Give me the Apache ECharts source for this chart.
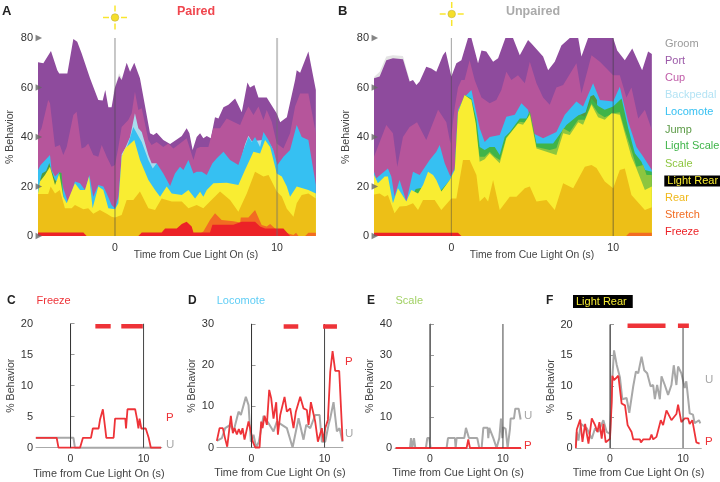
<!DOCTYPE html>
<html><head><meta charset="utf-8">
<style>html,body{margin:0;padding:0;background:#fff}#c{width:720px;height:482px}</style>
<script src="https://cdn.jsdelivr.net/npm/echarts@6/dist/echarts.min.js"></script>
</head><body><div id="c"></div>
<script>
// Top edge of every behaviour band (cumulative % behaviour), [time s, %].
const groomA=[[-0.1,58],[0.25,65.8],[0.5,63]];
const portA=[[-4.75,70.2],[-4.63,69.5],[-4.42,69.8],[-3.95,74.7],[-3.56,67],[-3.44,65.7],[-2.94,65.7],[-2.57,79.6],[-2.33,78.5],[-2.06,73.8],[-1.54,63.7],[-1.03,55],[-0.76,54.7],[-0.6,59],[-0.41,52],[-0.21,52],[0,60],[0.25,64.6],[0.41,63],[0.72,70],[0.93,66.4],[1.19,70],[1.54,63.7],[2.16,41.5],[2.37,40.8],[2.57,41.7],[2.98,38.8],[3.4,37.2],[3.81,39],[4.12,40.4],[4.42,43.5],[4.59,41.5],[4.79,34.7],[5.04,40],[5.25,41.5],[5.45,39.5],[5.66,40.4],[5.91,39.5],[6.17,48],[6.38,47.5],[6.69,52],[7,53],[7.41,55.6],[7.82,50],[8.17,62],[8.33,60],[8.6,61],[8.85,56],[9.36,56],[9.98,49.5],[10.19,46],[10.39,47],[10.6,48],[11.11,63],[11.21,67],[11.42,66],[11.93,74.5],[12.04,74.7],[12.39,59]];
const cupA=[[-4.75,40.8],[-4.53,43.5],[-4.12,55],[-4.01,53.6],[-3.7,36],[-3.4,36.8],[-3.19,32.7],[-2.98,36],[-2.57,48.9],[-2.37,50.2],[-2.06,35.4],[-1.85,36],[-1.65,37.4],[-1.34,32.7],[-1.03,32],[-0.82,36.8],[-0.51,32],[-0.21,28],[0,28.7],[0.21,36],[0.41,44],[0.82,46.9],[1.03,49.6],[1.23,58.3],[1.44,50.9],[1.65,51.6],[2.06,38.8],[2.26,36.8],[2.57,38],[2.98,36],[3.29,37.4],[3.6,35.4],[4.01,37.4],[4.42,39.5],[4.84,30.7],[5.04,35.4],[5.25,36],[5.76,36],[6.07,43.5],[6.48,43.5],[6.89,47.5],[7.3,46.2],[7.72,44.8],[8.02,49.6],[8.23,52.3],[8.54,48.9],[8.85,52.3],[9.16,46.9],[9.36,50.9],[9.67,46.2],[9.98,37.4],[10.39,35.4],[10.8,41.5],[11.11,52.3],[11.42,57.6],[11.93,57.6],[12.39,41.5]];
const backpedalA=[[0.41,33],[0.62,35.4],[0.93,40],[1.23,49.6],[1.44,43.5],[1.65,42],[2.06,32.7],[2.26,29.4],[2.57,29.4],[4,null],[7.72,29.5],[8.02,37],[8.23,40.5],[8.44,38.3],[9.36,39],[9.67,36],[9.98,29]];
const locomoteA=[[-4.75,26.7],[-4.59,28.7],[-4.01,32.7],[-3.91,26.7],[-3.7,24],[-3.4,26],[-3.19,19.3],[-2.88,13.2],[-2.47,22],[-2.16,21.3],[-1.85,18.6],[-1.58,24.6],[-1.34,15.9],[-1.03,20.6],[-0.72,20],[-0.51,17.2],[-0.21,12.5],[0,11.2],[0.21,15.9],[0.41,32],[0.62,34],[0.82,37.5],[1.13,44],[1.65,38],[2.06,30.7],[2.33,27.3],[2.57,29.4],[2.98,25.3],[3.4,20.2],[3.7,25.3],[4.01,28],[4.22,26.7],[4.53,30.7],[4.84,25.3],[5.04,26],[5.35,26],[5.66,24.6],[6.01,29.4],[6.28,31.4],[6.69,34],[7.1,30.7],[7.61,28.7],[7.92,34.7],[8.23,40],[8.44,38],[8.64,40],[8.95,36],[9.16,42],[9.47,38.8],[9.77,34.7],[10.02,28.7],[10.39,32],[10.8,34.7],[11.21,44.8],[11.52,40],[11.93,38.8],[12.39,20.6]];
const jumpA=[[-4.6,23],[-4.5,25.3],[-4.25,26.3],[-4.05,29.5],[-3.95,27],[-3.7,22.5],[-3.5,22]];
const lightScaleA=[[-3.6,21],[-3.44,25.8],[-3.3,25.5],[-3.19,16]];
const scaleA=[[5.1,15],[5.25,18.3],[5.4,15]];
const lightRearA=[[-4.75,17.2],[-4.63,22],[-4.32,24.6],[-4.01,28],[-3.7,20.6],[-3.44,25.3],[-3.19,15.9],[-2.98,13.2],[-2.47,21.3],[-2.16,18.6],[-1.85,18.6],[-1.6,24],[-1.38,11.2],[-1.03,20],[-0.72,18.6],[-0.41,11.2],[0,10.8],[0.21,13.2],[0.41,32],[0.62,35.4],[1.19,38.8],[1.54,30.7],[2.06,22.6],[2.47,18.6],[2.78,15.9],[3.19,20],[3.5,17.2],[4.12,16.6],[4.53,18.6],[4.94,15.2],[5.25,17.9],[5.45,15.9],[5.66,18.6],[6.07,21.3],[6.89,21.5],[7.61,20.6],[8.02,26.7],[8.54,34],[8.95,33.3],[9.26,38.8],[9.57,36],[9.98,25.3],[10.29,24],[10.6,20],[10.8,15.9],[11.21,20],[11.93,18.6],[12.39,17.2]];
const rearA=[[-4.75,17],[-4.12,17],[-3.97,20],[-3.7,17.2],[-3.4,18.6],[-3.09,11.2],[-2.67,11.2],[-2.47,12.5],[-1.95,10.8],[-1.65,11.2],[-1.34,9],[-0.93,10.5],[-0.51,9],[-0.21,7.8],[0,7.5],[0.41,8.5],[0.72,14.5],[1.13,14.5],[1.54,18],[2.06,11.2],[2.47,10.5],[2.88,15.2],[3.19,14.5],[3.5,13.9],[4.12,13.9],[4.53,11.2],[5.04,12.5],[5.45,11.2],[5.86,13.9],[6.48,18],[7.1,14.5],[7.61,9.8],[8.13,17.2],[8.64,26],[9.16,24],[9.47,24.6],[9.98,18],[10.29,16],[10.6,11],[11.01,7.8],[11.21,13.2],[11.52,16.6],[11.93,17.2],[12.39,15.2]];
const stretchA=[[5.04,0],[5.45,1.8],[5.86,6.5],[6.17,9.2],[6.58,6.5],[7.3,6],[7.72,5.5],[7.76,7.5],[8.23,7.5],[8.64,10.5],[9.05,4.4],[9.36,3.8],[9.57,4.8],[9.98,2.4],[11.01,0.4],[11.17,1.3],[11.32,0],[11.73,0],[11.93,1.3],[12.39,1.3]];
const freezeA=[[-4.75,1.4],[-1.95,1.4],[-1.75,0],[1.44,0],[1.65,1.4],[2.88,1.4],[3.09,3],[3.81,3],[4.12,4.8],[4.42,5.8],[4.73,3.8],[4.84,1.4],[5.86,1.4],[6.01,4.5],[7.3,4.5],[7.82,5.8],[8.64,5.8],[8.95,3.8],[9.26,3],[10.39,3],[10.8,0],[12.39,0]];

const groomB=[[-4.78,64.2],[-4.43,66.4],[-4.02,72.5],[-3.61,73],[-2.99,72.7],[-2.58,63]];
const portB=[[-4.78,63.7],[-4.43,64.4],[-4.02,71],[-3.61,71.8],[-2.99,71.4],[-2.58,62.4],[-2.37,63],[-2.16,61],[-1.96,62.4],[-1.55,68.4],[-1.24,67.7],[-0.93,66.4],[-0.52,73],[-0.35,74.5],[0,64.4],[0.31,69.8],[0.62,71],[1.03,80],[1.24,80],[1.65,69.8],[1.86,75],[2.16,74.5],[2.58,70.4],[2.89,71.8],[3.34,80],[3.81,80],[4.23,73],[4.74,79.2],[4.95,77.8],[5.67,72.5],[5.98,67],[6.39,70.4],[6.8,77],[7.32,80],[7.84,80],[8.04,72.5],[8.45,80],[10,80],[10.25,75],[10.72,71],[11.18,75.8],[11.79,67],[12.16,74.5],[12.39,73.5]];
const cupB=[[-4.78,32],[-4.02,44.8],[-3.61,41.5],[-3.34,28],[-2.99,40],[-2.58,44],[-2.12,46],[-1.55,38.8],[-0.82,51],[-0.31,46],[-0.06,37.4],[0.21,52],[0.41,60],[0.62,63],[0.82,63],[1.13,71],[1.44,63],[1.86,56],[2.37,53.6],[2.78,55],[3.09,59],[3.4,66.4],[3.71,63],[4.12,65],[4.54,61.7],[4.85,70.4],[5.26,61.7],[5.67,56],[6.08,53],[6.49,60],[6.91,61],[7.73,69.8],[8.04,57.6],[8.66,73],[9.18,70.4],[10,65],[10.41,65],[10.82,56],[11.13,60],[11.55,47.5],[11.96,51],[12.39,42.8]];
const locomoteB=[[-4.78,26],[-4.64,23.3],[-3.92,27.3],[-3.71,24],[-3.51,16],[-3.2,22.6],[-2.78,13.9],[-2.37,26],[-1.96,24.6],[-1.34,30.7],[-0.93,34],[-0.72,36.8],[-0.41,29.4],[-0.06,24],[0.21,27.3],[0.41,51],[0.82,56.3],[1.24,59],[1.55,49.6],[1.75,43.5],[2.06,38],[2.37,40],[2.99,40.8],[3.4,48.2],[3.92,49],[4.33,53.6],[4.74,51],[5.05,41.5],[5.67,39.5],[6.49,42],[7.01,49],[7.73,54.3],[8.14,52.3],[8.76,61.7],[9.18,55],[10,54.3],[10.41,60.3],[10.93,46.2],[11.44,36],[11.86,32],[12.39,26.7]];
const jumpB=[[7.8,48.5],[8.3,50],[8.6,56.5],[8.8,57],[9,55]];
const lightScaleB=[[-2.6,14],[-2.2,19],[-1.8,19.5],[-1.5,17],[-0.8,17.5],[-0.5,19.5],[-0.1,22.5],[0.2,26],[0.41,50],[0.82,57],[1.24,55.5],[1.55,47],[1.75,36],[2.06,34.7],[2.37,36],[2.68,36],[2.99,32.7],[3.3,40],[3.61,42],[4.23,47.5],[4.64,47.5],[4.85,50.5],[5.26,37.4],[5.67,37.4],[6.29,37.4],[7.11,44.8],[7.73,48.2],[7.94,49],[8.25,48.2],[8.66,55.6],[9.07,52.5],[9.48,51],[10,52.3],[10.52,55.6],[10.93,43.5],[11.34,33.4],[11.75,30],[11.96,26.7],[12.39,26]];
const scaleB=[[1.55,40],[1.75,32],[2.06,32],[2.37,34],[2.68,32],[2.99,30.7],[3.4,39.8],[4.23,46.2],[4.64,45.8],[4.85,50],[5.26,36],[6.08,34.7],[6.49,35.5],[6.91,43.5],[7.32,42],[7.84,47],[8.25,47],[8.66,53.6],[9.07,49.6],[9.48,48],[10,49.6],[10.41,50],[10.72,42.8],[11.13,34.7],[11.44,28],[11.86,28.7],[12.06,24.6],[12.39,24.6]];
const lightRearB=[[-4.78,24.6],[-4.54,21.3],[-4.12,24],[-3.92,24],[-3.61,13.2],[-3.3,19.3],[-2.78,13.9],[-2.47,18.6],[-2.06,17.2],[-1.75,20.6],[-1.44,26],[-1.13,24.6],[-0.93,22.6],[-0.62,18],[-0.1,22.6],[0.21,26.7],[0.41,50],[0.82,57],[1.24,55],[1.51,45.5],[1.75,30],[2.06,31],[2.37,33.4],[2.68,31.4],[2.99,29.4],[3.4,39.5],[4.12,45.5],[4.43,45],[4.85,49],[5.26,35.4],[5.88,34],[6.49,32.7],[6.91,41.5],[7.32,40.8],[7.84,46],[8.14,45],[8.66,53],[9.07,48],[9.48,47],[9.9,49.6],[10.41,49],[10.72,41.5],[11.13,32],[11.44,27.3],[11.96,18.6],[12.39,20]];
const rearB=[[-4.78,16.8],[-4.43,17.2],[-4.12,15.9],[-3.92,16.6],[-3.51,9.2],[-3.2,11.9],[-2.78,12.1],[-2.37,13.2],[-2.06,10.5],[-1.75,14.5],[-1.03,14.5],[-0.62,10.5],[0,15.2],[0.31,15.2],[0.72,30.7],[1.13,30.7],[1.55,24.6],[1.75,13.9],[2.06,15.9],[2.27,13.9],[2.58,22.6],[2.99,10.5],[3.61,15.9],[4.02,15.9],[4.54,19.3],[4.85,20],[5.26,13.9],[5.88,14.5],[6.39,10.5],[6.91,21.3],[7.53,19.3],[8.25,28],[8.66,28.7],[8.97,27.5],[9.48,22],[10,19.3],[10.41,26.7],[10.72,27.3],[11.13,16.6],[11.96,10.5],[12.39,11.6]];
const stretchB=[[10.8,0],[11,1.3],[12.39,1.3]];
const freezeB=[[-4.78,1.3],[0.41,1.3],[0.62,0],[12.39,0]];

// Single-behaviour traces, P = paired, U = unpaired.
const freezeP=[[-4.75,1.6],[-1.9,1.6],[-1.65,0],[1.3,0],[1.7,1.6],[2.8,1.6],[3.05,3.1],[3.85,3.1],[4.05,4.6],[4.3,4.8],[4.43,6.2],[4.75,3.1],[4.9,1.6],[5.9,1.6],[6.1,4.7],[7.5,4.7],[7.6,3.1],[7.8,6.2],[8.85,6.2],[9.1,4.7],[9.3,3.1],[9.45,4.7],[9.7,3.1],[10.3,3.1],[10.7,1.6],[11,0],[12.4,0]];
const freezeU=[[-4.75,1.6],[0.4,1.6],[0.6,0],[12.4,0]];
const freezeSig=[[[3.4,19.6],[5.5,19.6]],[[6.95,19.6],[9.9,19.6]]];
const locomoteP=[[-4.75,1.6],[-4.38,4.7],[-3.93,4.7],[-3.61,2.1],[-3.33,0.2],[-2.83,7.7],[-2.56,3.5],[-2.33,4.7],[-2.01,3.2],[-1.74,4.5],[-1.46,3.2],[-1.23,4.7],[-0.96,1.9],[-0.41,6.3],[-0.09,3.9],[0.14,1.6],[0.5,0],[1.1,0],[1.32,6.3],[1.51,4.7],[1.78,7.7],[2.1,5.5],[2.42,14],[2.69,12],[3.01,7],[3.38,11],[3.61,3.1],[3.93,7.9],[4.52,12.3],[4.84,8.7],[5.3,9.5],[5.75,4.7],[6.07,8.7],[6.67,12.3],[7.12,9.5],[7.58,9.1],[7.81,5.5],[8.13,11],[8.72,6.3],[9.09,1.4],[9.63,4.7],[9.86,1.4],[10.09,4.7],[10.46,6.7],[10.78,18.4],[11.1,23.4],[11.46,18.6],[12.01,18.6],[12.47,1.6]];
const locomoteU=[[-4.75,1.6],[-4.06,2.3],[-3.61,4.7],[-2.92,5.5],[-2.47,3.9],[-1.78,8.7],[-1.46,7.9],[-0.78,12.3],[-0.41,10.3],[-0.09,1.4],[0.27,3.1],[0.64,0],[1,1.4],[1.42,5.5],[1.64,7.7],[2.33,5.9],[3.01,3.9],[3.47,6.3],[4.16,5.5],[4.84,4.7],[5.62,0],[5.98,3.1],[6.44,7.1],[7.12,1.9],[7.49,5.5],[8.04,4.7],[8.72,7.9],[9.32,7.9],[9.63,1.4],[10.09,1.4],[10.55,5.5],[10.78,7.1],[11.23,11],[11.69,3.9],[12.05,4.7],[12.47,1.4]];
const locomoteSig=[[[4.4,29.4],[6.4,29.4]],[[9.8,29.4],[11.7,29.4]]];
const scaleP=[[-4.7,0],[5.02,0],[5.25,2.8],[5.48,0],[12.47,0]];
const scaleU=[[-4.7,0],[-2.74,0],[-2.6,3.2],[-2.42,0],[-2.19,3.2],[-2.01,0],[-0.55,0],[-0.37,3.2],[-0.09,3.2],[0.09,0],[2.28,0],[2.47,3.2],[3.42,3.2],[3.52,0],[3.65,3.2],[4.7,3.2],[4.93,6.5],[5.16,6.5],[5.34,3.2],[6.48,3.2],[6.76,0],[7.08,0],[7.31,6.5],[7.9,6.5],[7.99,3.2],[8.13,6.5],[8.36,6.5],[8.68,3.2],[8.9,3.2],[9.13,0],[9.5,3.2],[9.73,9.5],[9.91,3.2],[10.05,6.7],[10.37,6.2],[10.64,0],[10.96,6.2],[11.05,9.5],[11.51,9.5],[11.69,12.7],[12.15,12.7],[12.42,9.2]];
const lightRearP=[[-4.68,0],[-4.55,3],[-4.09,4.6],[-3.77,1],[-3.41,3.9],[-2.95,0.7],[-2.5,4.8],[-2.05,3.7],[-1.73,2.6],[-1.45,4.2],[-1.14,1.5],[-0.91,3.9],[-0.59,0.9],[0,1.5],[0.23,7.4],[0.32,11.7],[0.55,11],[1.14,11.7],[1.59,7.2],[2.05,6.9],[2.41,3.7],[2.95,2.6],[3.18,1.4],[4.09,1.4],[4.23,0.9],[4.55,1.4],[5.45,1.4],[5.68,2.2],[5.91,1.4],[6.36,1.8],[6.95,4.5],[7.27,3.7],[7.73,6.1],[8.41,4.5],[9.09,5.5],[9.32,7],[9.77,4.2],[10.23,4.8],[10.68,4.8],[10.91,3.9],[11.27,4.5],[11.82,0.9],[12.27,0.7]];
const lightRearU=[[-4.68,0.4],[-4.55,2.6],[-4.32,1.2],[-4,3.9],[-3.18,3.2],[-2.5,1.5],[-2.05,3.2],[-1.59,2.6],[-0.91,4.5],[-0.45,2.6],[0,2.3],[0.32,11.4],[0.55,15.8],[0.91,13.5],[1.36,11.4],[1.68,7.9],[2.27,8.1],[2.64,5.7],[3.18,10],[3.55,12.4],[3.86,12.1],[4.32,14.8],[4.68,12.6],[5.09,12.1],[5.55,10],[5.91,10.2],[6.14,7.9],[6.45,10.2],[6.82,7.9],[7.05,11.6],[7.5,10.2],[7.95,8.6],[8.41,10.2],[8.73,13.4],[9.09,10.2],[9.32,13.2],[9.77,12.1],[10.23,9.7],[10.45,10.8],[10.91,5.6],[11.36,5.4],[11.59,4],[12.18,4.5],[12.36,4]];
const lightRearSig=[[[2.4,19.8],[7.6,19.8]],[[9.3,19.8],[10.8,19.8]]];

const behaviours=['Groom','Port','Cup','Backpedal','Locomote','Jump','Light Scale','Scale','Light Rear','Rear','Stretch','Freeze'];
const fills=['#e4e4e4','#8e4b9d','#b6559b','#a9dcee','#36c0f2','#4f9a3f','#3fb449','#8dc63f','#f9ed32','#edbf17','#f26c22','#ec2227'];
const legendColors=['#9a9a9a','#9b59a8','#c05ca8','#b4e3f4','#36c0f2','#5b9a46','#3fb449','#8dc63f','#f9ed32','#f0b81a','#f26c22','#ec2227'];
const stackA=[groomA,portA,cupA,backpedalA,locomoteA,jumpA,lightScaleA,scaleA,lightRearA,rearA,stretchA,freezeA];
const stackB=[groomB,portB,cupB,[],locomoteB,jumpB,lightScaleB,scaleB,lightRearB,rearB,stretchB,freezeB];
const stackTicks=[0,20,40,60,80];

const FONT='"Liberation Sans",Arial,sans-serif';
const RED='#ee3338', GREY='#a8a8a8';
const grids=[
 {left:38,top:38,width:278,height:198},
 {left:374,top:38,width:278,height:198},
 {left:36,top:323.7,width:125.8,height:124},
 {left:217,top:324,width:125.8,height:123.5},
 {left:395,top:324,width:126.2,height:124},
 {left:575.7,top:324.5,width:125.6,height:123.5}
];
const xRange=[[-4.75,12.4],[-4.78,12.4],[-4.73,12.5],[-4.73,12.5],[-4.79,12.5],[-4.7,12.5]];
const yMax=[80,80,20,30,40,20], yStep=[20,20,5,10,10,5];

const xAxes=grids.map((g,i)=>{
  const big=i<2;
  return {gridIndex:i,type:'value',min:xRange[i][0],max:xRange[i][1],
    axisLine:{show:!big,onZero:false,lineStyle:{color:'#aaa',width:1}},axisTick:{show:false},splitLine:{show:false},
    axisLabel:{customValues:[0,10],color:'#333',fontSize:10.5,fontFamily:FONT,margin:big?7:6},
    name:'Time from Cue Light On (s)',nameLocation:'middle',nameMoveOverlap:false,nameGap:big?14:(i===2?21:19.5),
    nameTextStyle:{color:'#444',fontSize:big?10.3:10.9,fontFamily:FONT,padding:big?[0,0,0,38]:0}};
});
const yAxes=grids.map((g,i)=>{
  const big=i<2;
  return {gridIndex:i,type:'value',min:0,max:yMax[i],interval:yStep[i],
    axisLine:{show:!big,lineStyle:{color:'#999',width:1}},
    axisTick:{show:!big,inside:true,length:4,lineStyle:{color:'#999'}},splitLine:{show:false},
    axisLabel:{color:'#333',fontSize:11,fontFamily:FONT,margin:big?5:3},
    name:'% Behavior',nameLocation:'middle',nameGap:big?22:18,nameRotate:90,
    nameTextStyle:{color:'#444',fontSize:10.6,fontFamily:FONT}};
});

const series=[];
function cue(i,t,color,width){
  series.push({type:'line',name:'cue '+t,xAxisIndex:i,yAxisIndex:i,data:[[t,0],[t,yMax[i]]],symbol:'none',silent:true,z:6,lineStyle:{color,width}});
}
[stackA,stackB].forEach((stack,i)=>{
  stack.forEach((d,k)=>{
    if(!d.length) return;
    series.push({type:'line',name:behaviours[k],xAxisIndex:i,yAxisIndex:i,data:d,symbol:'none',silent:true,z:2,
      lineStyle:{width:0},areaStyle:{color:fills[k],opacity:1},itemStyle:{color:fills[k]}});
  });
  series.push({type:'scatter',name:'ticks',xAxisIndex:i,yAxisIndex:i,data:stackTicks.map(v=>[xRange[i][0]+0.05,v]),
    symbol:'triangle',symbolSize:6.5,symbolRotate:-90,clip:false,silent:true,z:7,itemStyle:{color:'#666'}});
});
cue(0,0,'rgba(70,70,70,0.6)',1); cue(0,10,'rgba(110,110,110,0.4)',2);
cue(1,0,'rgba(70,70,70,0.5)',1); cue(1,10,'rgba(60,60,60,0.6)',1);
const traces=[[freezeU,freezeP,freezeSig],[locomoteU,locomoteP,locomoteSig],[scaleU,scaleP,null],[lightRearU,lightRearP,lightRearSig]];
traces.forEach((tr,n)=>{
  const i=n+2;
  cue(i,0,'#333',1); cue(i,10,'#444',1);
  series.push({type:'line',name:'U',xAxisIndex:i,yAxisIndex:i,data:tr[0],symbol:'none',silent:true,z:4,clip:false,lineStyle:{color:GREY,width:2}});
  series.push({type:'line',name:'P',xAxisIndex:i,yAxisIndex:i,data:tr[1],symbol:'none',silent:true,z:5,clip:false,lineStyle:{color:RED,width:1.8}});
  (tr[2]||[]).forEach(seg=>series.push({type:'line',name:'sig',xAxisIndex:i,yAxisIndex:i,data:seg,symbol:'none',silent:true,z:7,clip:false,lineStyle:{color:RED,width:4.5,cap:'butt'}}));
});

function txt(text,x,y,fill,size,extra){
  return {type:'text',x,y,silent:true,style:Object.assign({text,fill,font:(extra&&extra.weight||'normal')+' '+size+'px '+FONT,textVerticalAlign:'middle',textAlign:(extra&&extra.align)||'left'},extra&&extra.style||{})};
}
function sun(cx,cy){
  const rays=[[-12,0,-6,0],[6,0,12,0],[0,-12,0,-6],[0,6,0,12]];
  return rays.map(r=>({type:'line',silent:true,shape:{x1:cx+r[0],y1:cy+r[1],x2:cx+r[2],y2:cy+r[3]},style:{stroke:'#f9e62e',lineWidth:1.5}}))
    .concat([{type:'circle',silent:true,shape:{cx,cy,r:3.8},style:{fill:'#f5de2a',stroke:'#b9a93a',lineWidth:0.5}}]);
}
const legendY=[43.5,60.5,78,95,112,129.5,146,163.5,181,198,215,232];
const graphics=[
  txt('A',2,11,'#222',13,{weight:'bold'}),txt('B',338,11,'#222',13,{weight:'bold'}),
  txt('C',7,301,'#222',12,{weight:'bold'}),txt('D',188,301,'#222',12,{weight:'bold'}),
  txt('E',367,301,'#222',12,{weight:'bold'}),txt('F',546,301,'#222',12,{weight:'bold'}),
  txt('Paired',196,12,'#f0464e',12.5,{weight:'bold',align:'center'}),
  txt('Unpaired',533,12,'#aaaaaa',12.5,{weight:'bold',align:'center'}),
  txt('Freeze',36.5,301,'#ee3338',11),txt('Locomote',216.7,301,'#5fcdf5',11),txt('Scale',395.5,301,'#a2d165',11),
  txt('Light Rear',573,301.5,'#f4ea33',11,{style:{backgroundColor:'#000',padding:[1,6,1,3]}}),
  txt('P',166,418,RED,11.5),txt('U',166,445,GREY,11.5),
  txt('P',345,362,RED,11.5),txt('U',345,434,GREY,11.5),
  txt('U',524,416,GREY,11.5),txt('P',524,446,RED,11.5),
  txt('U',705,380,GREY,11.5),txt('P',705,442,RED,11.5)
].concat(sun(115,17.5),sun(451.7,14));
behaviours.forEach((b,k)=>{
  const dark=b==='Light Rear';
  graphics.push(dark?txt(b,664.3,legendY[k],legendColors[k],11,{style:{backgroundColor:'#000',padding:[0,3]}})
    :txt(b,665,legendY[k],legendColors[k],11));
});

const chart=echarts.init(document.getElementById('c'),null,{renderer:'canvas'});
chart.setOption({animation:false,backgroundColor:'#fff',grid:grids,xAxis:xAxes,yAxis:yAxes,series,graphic:{elements:graphics}});
</script></body></html>
